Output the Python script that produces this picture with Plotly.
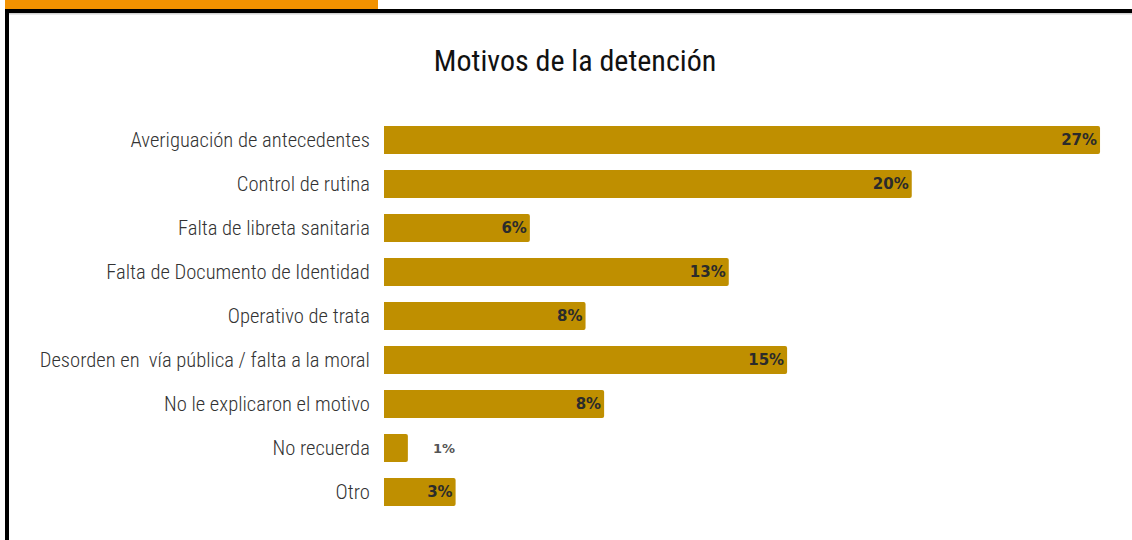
import plotly.graph_objects as go

categories = [
    "Averiguación de antecedentes",
    "Control de rutina",
    "Falta de libreta sanitaria",
    "Falta de Documento de Identidad",
    "Operativo de trata",
    "Desorden en  vía pública / falta a la moral",
    "No le explicaron el motivo",
    "No recuerda",
    "Otro",
]
values = [27.0, 19.9, 5.5, 13.0, 7.6, 15.2, 8.3, 0.9, 2.7]
labels = ["27%", "20%", "6%", "13%", "8%", "15%", "8%", "1%", "3%"]

W, H = 1132, 540
ML, MR, MT, MB = 384, 6, 118, 26
PW = W - ML - MR
PH = H - MT - MB
XMAX = PW / 26.52

def px(x):
    return (x - ML) / PW

def py(y):
    return (H - MB - y) / PH

inside_text = [t if v >= 2 else "" for t, v in zip(labels, values)]
VAL_FONT = "DejaVu Sans, Arial, sans-serif"
LBL_FONT = "Roboto Condensed, Liberation Sans Narrow, Roboto, sans-serif"

fig = go.Figure(go.Bar(
    x=values, y=categories, orientation="h",
    marker=dict(color="#BF8F00", cornerradius=2, line=dict(width=0)),
    width=0.64,
    text=inside_text, textposition="inside", insidetextanchor="end",
    textfont=dict(family=VAL_FONT, size=15, color="#2b2b2b", weight="bold"),
    constraintext="none",
    hoverinfo="skip",
))

annotations = []
for c, v, t in zip(categories, values, labels):
    if v < 2:
        annotations.append(dict(
            x=v, y=c, xref="x", yref="y", text=t, showarrow=False,
            xanchor="left", xshift=23,
            font=dict(family=VAL_FONT, size=13, color="#555555", weight="bold"),
        ))

shapes = [
    dict(type="rect", xref="paper", yref="paper", x0=px(5), x1=px(378), y0=py(0), y1=py(9),
         fillcolor="#F39200", line=dict(width=0), layer="above"),
    dict(type="rect", xref="paper", yref="paper", x0=px(5), x1=px(1132), y0=py(9), y1=py(13),
         fillcolor="#000000", line=dict(width=0), layer="above"),
    dict(type="rect", xref="paper", yref="paper", x0=px(9), x1=px(1132), y0=py(13), y1=py(14.5),
         fillcolor="#D0D0D0", line=dict(width=0), layer="above"),
    dict(type="rect", xref="paper", yref="paper", x0=px(5), x1=px(9), y0=py(9), y1=py(540),
         fillcolor="#000000", line=dict(width=0), layer="above"),
]

fig.update_layout(
    width=W, height=H,
    margin=dict(l=ML, r=MR, t=MT, b=MB, autoexpand=False),
    paper_bgcolor="white", plot_bgcolor="white",
    showlegend=False,
    title=dict(text="Motivos de la detención", x=575 / W, xanchor="center",
               y=1 - 60 / H, yanchor="middle", yref="container",
               font=dict(family=LBL_FONT, size=30, color="#111111")),
    xaxis=dict(range=[0, XMAX], visible=False, fixedrange=True),
    yaxis=dict(autorange="reversed", showgrid=False, zeroline=False, showline=False,
               ticks="outside", ticklen=9, tickcolor="rgba(0,0,0,0)",
               tickfont=dict(family=LBL_FONT, size=20.6, color="#333333", weight=300),
               fixedrange=True),
    shapes=shapes,
    annotations=annotations,
    bargap=0.36,
)

fig.write_html("out.html", config={"displayModeBar": False},
               post_script="document.body.style.margin='0';document.body.style.padding='0';")
